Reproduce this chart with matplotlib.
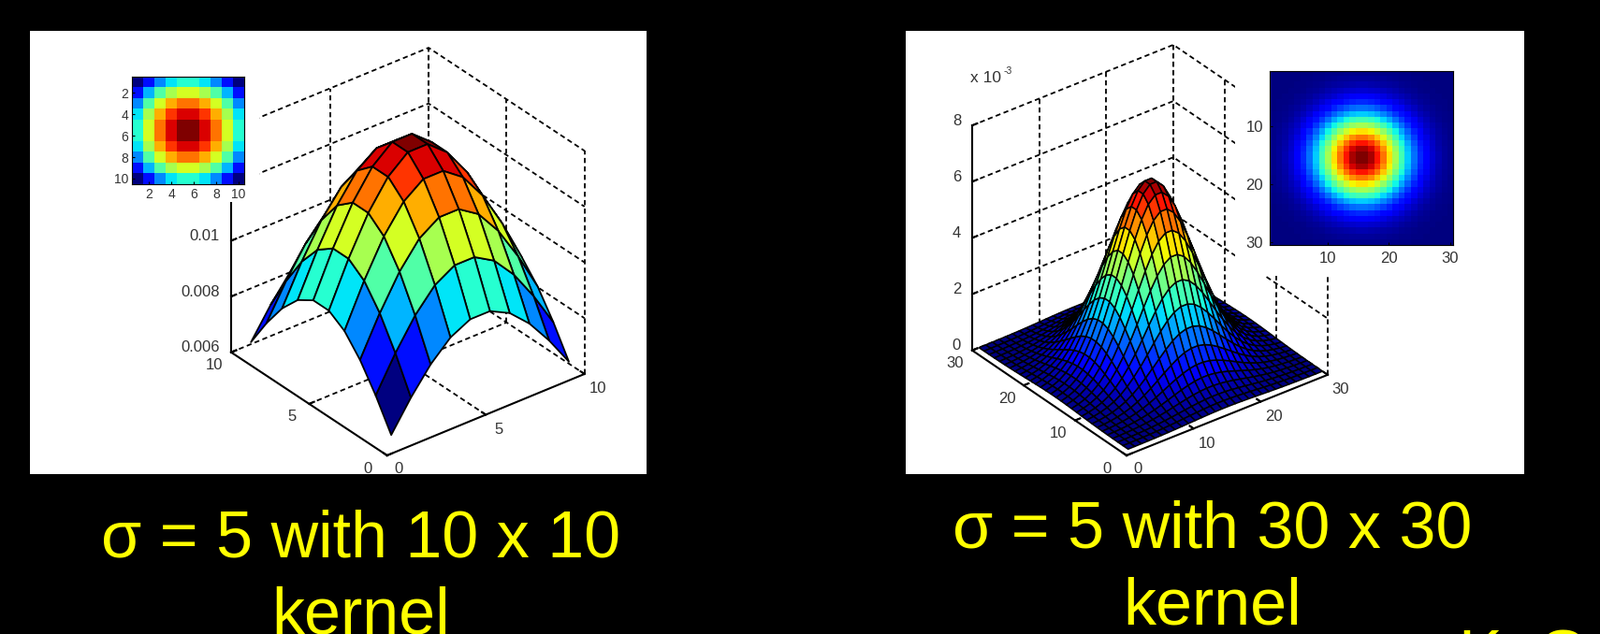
import numpy as np
import matplotlib
matplotlib.use("Agg")
import matplotlib.pyplot as plt
from matplotlib.patches import Rectangle
from mpl_toolkits.mplot3d import proj3d

plt.rcParams['font.family'] = ['Liberation Sans', 'DejaVu Sans']

W, H = 1710, 678

kernel_10 = [
    [.00607, .00712, .00802, .00869, .00905, .00905, .00869, .00802, .00712, .00607],
    [.00712, .00835, .00941, .01020, .01062, .01062, .01020, .00941, .00835, .00712],
    [.00802, .00941, .01061, .01150, .01197, .01197, .01150, .01061, .00941, .00802],
    [.00869, .01020, .01150, .01245, .01297, .01297, .01245, .01150, .01020, .00869],
    [.00905, .01062, .01197, .01297, .01356, .01356, .01297, .01197, .01062, .00905],
    [.00905, .01062, .01197, .01297, .01356, .01356, .01297, .01197, .01062, .00905],
    [.00869, .01020, .01150, .01245, .01297, .01297, .01245, .01150, .01020, .00869],
    [.00802, .00941, .01061, .01150, .01197, .01197, .01150, .01061, .00941, .00802],
    [.00712, .00835, .00941, .01020, .01062, .01062, .01020, .00941, .00835, .00712],
    [.00607, .00712, .00802, .00869, .00905, .00905, .00869, .00802, .00712, .00607],
]
# one row of the 30 x 30 kernel (square root of the peak scale), the table is row x column
profile_30 = [.0012, .0021, .0035, .0057, .0088, .0131, .0189, .0260, .0344, .0437,
              .0534, .0626, .0706, .0765, .0796, .0796, .0765, .0706, .0626, .0534,
              .0437, .0344, .0260, .0189, .0131, .0088, .0057, .0035, .0021, .0012]

z_ticks_10 = [.006, .008, .01, .012, .014]
z_labels_10 = ['0.006', '0.008', '0.01', '', '']
xy_ticks_10 = [0, 5, 10]
z_ticks_30 = [0, .002, .004, .006, .008]
z_labels_30 = ['0', '2', '4', '6', '8']
xy_ticks_30 = [0, 10, 20, 30]
inset_ticks_10 = [2, 4, 6, 8, 10]
inset_ticks_30 = [10, 20, 30]

titles = [('σ = 5 with 10 x 10', 'kernel', 386, 595, 677),
          ('σ = 5 with 30 x 30', 'kernel', 1296, 585, 668)]

fig = plt.figure(figsize=(W / 100, H / 100), dpi=100, facecolor='black')
GRAY = '#333333'


def pixel_axes(zorder):
    ax = fig.add_axes([0, 0, 1, 1], zorder=zorder)
    ax.set_xlim(0, W)
    ax.set_ylim(H, 0)
    ax.axis('off')
    ax.patch.set_alpha(0)
    return ax


def inset(box, zorder=5):
    x0, y0, x1, y1 = box
    return fig.add_axes([x0 / W, 1 - y1 / H, (x1 - x0) / W, (y1 - y0) / H], zorder=zorder)


def to_px(ax, x, y, z):
    xp, yp, _ = proj3d.proj_transform(x, y, z, ax.get_proj())
    px = ax.transData.transform((xp, yp))
    return px[0], H - px[1]


def surface_panel(Z, lim, zlim, ticks, zticks, front, right, azim, edge_lw):
    side = 700
    ax = fig.add_axes([0, 0, side / W, side / H], projection='3d', proj_type='ortho', zorder=2)
    ax.set_box_aspect((1, 1, 1.041))
    ax.view_init(elev=31.5, azim=azim)
    ax.set_xlim(0, lim)
    ax.set_ylim(0, lim)
    ax.set_zlim(*zlim)
    ax.set_axis_off()
    ax.patch.set_alpha(0)
    ax.computed_zorder = False

    # fit the box onto the corners measured in the picture
    fig.canvas.draw()
    f = np.array(to_px(ax, 0, 0, zlim[0]))
    r = np.array(to_px(ax, lim, 0, zlim[0]))
    side *= (right[0] - front[0]) / (r[0] - f[0])
    ax.set_position([0, 0, side / W, side / H])
    fig.canvas.draw()
    f = np.array(to_px(ax, 0, 0, zlim[0]))
    ax.set_position([(front[0] - f[0]) / W, (f[1] - front[1]) / H, side / W, side / H])
    fig.canvas.draw()

    z0, z1 = zlim
    dash = dict(color='black', lw=1.3, linestyle=(0, (3, 2)), zorder=1)
    solid = dict(color='black', lw=1.5, zorder=4)
    # back walls and floor
    for t in zticks[1:]:
        ax.plot([0, lim, lim], [lim, lim, 0], [t, t, t], **dash)
    for t in ticks[1:]:
        ax.plot([t, t], [lim, lim], [z0, z1], **dash)
        ax.plot([lim, lim], [t, t], [z0, z1], **dash)
    ax.plot([lim, lim], [0, 0], [z0, z1], **dash)
    ax.plot([0, lim, lim], [lim, lim, 0], [z0, z0, z0], **dash)
    for t in ticks[1:-1]:
        ax.plot([t, t], [0, lim], [z0, z0], **dash)
        ax.plot([0, lim], [t, t], [z0, z0], **dash)

    n = Z.shape[0]
    u = np.arange(1, n + 1)
    X, Y = np.meshgrid(u, u)
    norm = plt.Normalize(Z.min(), Z.max())
    colors = plt.cm.jet(norm(Z))
    ax.plot_surface(X, Y, Z, facecolors=colors, rstride=1, cstride=1, shade=False,
                    edgecolor='black', linewidth=edge_lw, antialiased=True, zorder=2)

    # solid axes with their small tick marks
    ax.plot([0, lim], [0, 0], [z0, z0], **solid)
    ax.plot([0, 0], [0, lim], [z0, z0], **solid)
    ax.plot([0, 0], [lim, lim], [z0, z1], **solid)
    tick = lim / 40
    for t in ticks:
        ax.plot([t, t], [0, tick], [z0, z0], **solid)
        ax.plot([0, tick], [t, t], [z0, z0], **solid)
    for t in zticks:
        ax.plot([0, tick], [lim, lim], [t, t], **solid)
    return ax


def tick_labels(over, ax, lim, z0, ticks, zticks, zlabels):
    for t in ticks:
        if t == 0:
            continue
        px, py = to_px(ax, t, 0, z0)
        over.text(px + 14, py + 16, str(t), ha='center', va='center', fontsize=12, color=GRAY)
        px, py = to_px(ax, 0, t, z0)
        over.text(px - 18, py + 14, str(t), ha='center', va='center', fontsize=12, color=GRAY)
    px, py = to_px(ax, 0, 0, z0)
    over.text(px + 12, py + 14, '0', ha='center', va='center', fontsize=12, color=GRAY)
    over.text(px - 21, py + 14, '0', ha='center', va='center', fontsize=12, color=GRAY)
    for t, lab in zip(zticks, zlabels):
        px, py = to_px(ax, 0, lim, t)
        over.text(px - 12, py - 5, lab, ha='right', va='center', fontsize=12, color=GRAY)


back = pixel_axes(0)
back.add_patch(Rectangle((31.5, 32.5), 659.5, 474.5, color='white', lw=0))
back.add_patch(Rectangle((968, 32.5), 661, 474.5, color='white', lw=0))

Z10 = np.array(kernel_10)
Z30 = np.outer(profile_30, profile_30)

ax10 = surface_panel(Z10, 10, (.006, .014), xy_ticks_10, z_ticks_10, (413.7, 487), (624.7, 401.7), 231.7, 1.3)
ax30 = surface_panel(Z30, 30, (0, .008), xy_ticks_30, z_ticks_30, (1204, 487), (1419, 400.5), 232.5, 1.1)

over = pixel_axes(3)
# white margins of the insets hide the back grid
over.add_patch(Rectangle((32, 33), 245, 183, color='white', lw=0))
over.add_patch(Rectangle((1320, 33), 309, 262, color='white', lw=0))

tick_labels(over, ax10, 10, .006, xy_ticks_10, z_ticks_10, z_labels_10)
tick_labels(over, ax30, 30, 0, xy_ticks_30, z_ticks_30, z_labels_30)
over.text(1037, 84, 'x 10', ha='left', va='center', fontsize=12.5, color=GRAY)
over.text(1073, 76, '-3', ha='left', va='center', fontsize=7.5, color=GRAY)

for line1, line2, cx, y1, y2 in titles:
    over.text(cx, y1, line1, ha='center', va='baseline', fontsize=50.4, color='#ffff00')
    over.text(cx, y2, line2, ha='center', va='baseline', fontsize=50.4, color='#ffff00')
over.text(1558, 723, 'K', ha='left', va='baseline', fontsize=50.4, color='#ffff00', clip_on=True)
over.text(1642, 723, 'G', ha='left', va='baseline', fontsize=50.4, color='#ffff00', clip_on=True)

a = inset((141.3, 82, 261, 196.7))
a.imshow(Z10, cmap='jet', aspect='auto', interpolation='nearest', extent=(.5, 10.5, 10.5, .5))
a.set_xticks(inset_ticks_10)
a.set_yticks(inset_ticks_10)
a.tick_params(direction='in', length=2, width=.8, labelsize=10, labelcolor=GRAY, pad=3)

b = inset((1357, 75.7, 1553, 262))
b.imshow(Z30, cmap='jet', aspect='auto', interpolation='nearest', extent=(.5, 30.5, 30.5, .5))
b.set_xticks(inset_ticks_30)
b.set_yticks(inset_ticks_30)
b.tick_params(direction='in', length=2, width=.8, labelsize=12, labelcolor=GRAY, pad=5)

fig.savefig('out.png', dpi=100, facecolor='black')
